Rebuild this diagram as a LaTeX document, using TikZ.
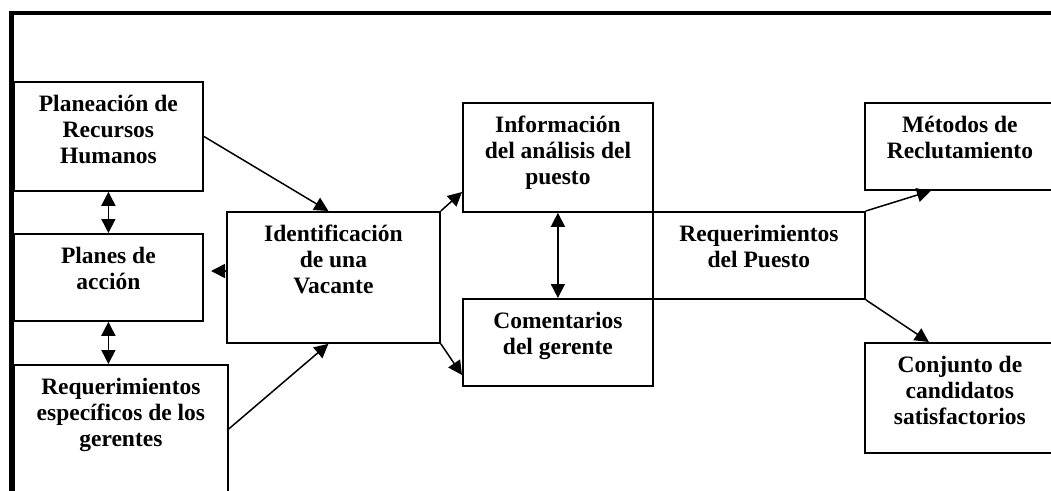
\documentclass[tikz,border=0pt]{standalone}
\usepackage{fontspec}
\setmainfont{Liberation Serif}
\usetikzlibrary{arrows.meta,calc}
\tikzset{
  box/.style={draw, line width=1.8pt, rectangle, anchor=north west, inner sep=0pt},
  lbl/.style={anchor=north, inner sep=0pt, align=center, font=\bfseries\fontsize{23.5}{25.8}\selectfont},
  arr/.style={line width=1.5pt, -{Triangle[length=14pt,width=14pt]}},
  darr/.style={line width=1.5pt, {Triangle[length=14pt,width=14pt]}-{Triangle[length=14pt,width=14pt]}},
  frame/.style={line width=4.5pt}
}
\begin{document}
\begin{tikzpicture}[x=1pt,y=1pt]
\useasboundingbox (0,0) rectangle (1051,-490);
\clip (0,0) rectangle (1051,-490);
% boxes
\node[box, minimum width=189, minimum height=109] (b1) at (13,-81) {};
\node[box, minimum width=189, minimum height=87] (b2) at (13,-233) {};
\node[box, minimum width=214, minimum height=128] (b3) at (13,-364) {};
\node[box, minimum width=213, minimum height=131] (ident) at (226,-211) {};
\node[box, minimum width=190, minimum height=109] (info) at (462,-102) {};
\node[box, minimum width=190, minimum height=87] (coment) at (462,-298) {};
\node[box, minimum width=212, minimum height=87] (req) at (652,-211) {};
\node[box, minimum width=190, minimum height=87] (met) at (864,-102) {};
\node[box, minimum width=190, minimum height=110] (conj) at (864,-342) {};
% frame
\coordinate (fb) at (11.5,-495);
\coordinate (fc) at (11.5,-13);
\coordinate (fr) at (1060,-13);
\draw[frame] (fb) -- (fc) -- (fr);
% labels
\node[lbl] (t1) at ([yshift=-14]b1.north) {Planeación de\\Recursos\\Humanos};
\node[lbl] (t2) at ([yshift=-14]b2.north) {Planes de\\acción};
\node[lbl] (t3) at ([yshift=-14]b3.north) {Requerimientos\\específicos de los\\gerentes};
\node[lbl] (t4) at ([yshift=-14]ident.north) {Identificación\\de una\\Vacante};
\node[lbl] (t5) at ([yshift=-14]info.north) {Información\\del análisis del\\puesto};
\node[lbl] (t6) at ([yshift=-14]coment.north) {Comentarios\\del gerente};
\node[lbl] (t7) at ([yshift=-14]req.north) {Requerimientos\\del Puesto};
\node[lbl] (t8) at ([yshift=-14]met.north) {Métodos de\\Reclutamiento};
\node[lbl] (t9) at ([yshift=-14]conj.north) {Conjunto de\\candidatos\\satisfactorios};
% connectors
\draw[arr] (b1.east) -- ([xshift=-5]ident.north);
\draw[arr] (b3.east) -- ([xshift=-5]ident.south);
\draw[darr] (b1.south) -- (b1.south |- b2.north);
\draw[darr] (b2.south) -- (b2.south |- b3.north);
\coordinate (pa) at (211,-271);
\draw[arr] (ident.west |- pa) -- (pa);
\draw[arr] (ident.north east) -- (info.west |- 0,-192);
\draw[arr] (ident.south east) -- (coment.west |- 0,-375);
\draw[darr] (info.south) -- (info.south |- coment.north);
\draw[arr] (req.north east) -- ([xshift=-29]met.south);
\draw[arr] (req.south east) -- ([xshift=-31]conj.north);
\end{tikzpicture}
\end{document}
